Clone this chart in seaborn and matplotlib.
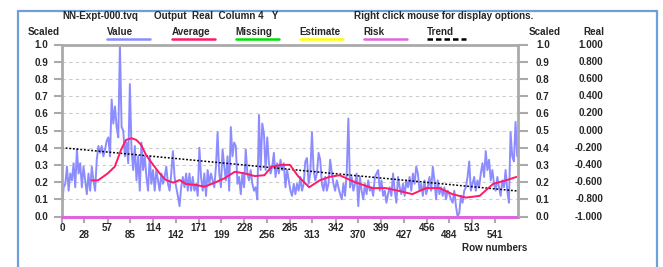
import numpy as np
import pandas as pd
import matplotlib
matplotlib.use("Agg")
import matplotlib.pyplot as plt
import matplotlib.transforms as mtransforms
from matplotlib.lines import Line2D
import seaborn as sns

# values (scaled 0..1), spread evenly over rows 0..569
value = [
    0.06, 0.17, 0.19, 0.29, 0.15, 0.25, 0.21, 0.31, 0.17, 0.39,
    0.25, 0.31, 0.17, 0.29, 0.21, 0.13, 0.25, 0.15, 0.29, 0.21,
    0.15, 0.33, 0.41, 0.37, 0.41, 0.35, 0.39, 0.44, 0.46, 0.35,
    0.68, 0.54, 0.64, 0.52, 0.46, 1.00, 0.52, 0.50, 0.35, 0.43,
    0.31, 0.77,
    0.39, 0.27, 0.41, 0.21, 0.35, 0.15, 0.43, 0.27, 0.35, 0.23,
    0.15, 0.35, 0.19, 0.27, 0.15, 0.27, 0.21, 0.15, 0.25, 0.19,
    0.23, 0.29, 0.19, 0.15, 0.25, 0.38, 0.23, 0.17, 0.12, 0.06,
    0.17, 0.23, 0.17, 0.25, 0.15, 0.25, 0.15, 0.23, 0.15, 0.19,
    0.12, 0.40, 0.23, 0.15, 0.25, 0.12, 0.27, 0.19,
    0.25, 0.21, 0.17, 0.29, 0.49, 0.25, 0.17, 0.39, 0.29, 0.21,
    0.35, 0.15, 0.52, 0.35, 0.43, 0.41, 0.19, 0.23, 0.13, 0.25,
    0.17, 0.39, 0.25, 0.21, 0.27, 0.19, 0.15, 0.17, 0.10, 0.59,
    0.27, 0.54, 0.48, 0.27, 0.46, 0.31, 0.25, 0.29, 0.37, 0.23,
    0.31, 0.25, 0.33, 0.27,
    0.31, 0.17, 0.27, 0.21, 0.15, 0.12, 0.19, 0.13, 0.19, 0.15,
    0.23, 0.15, 0.19, 0.32, 0.34, 0.19, 0.25, 0.49, 0.27, 0.21,
    0.25, 0.37, 0.33, 0.19, 0.15, 0.23, 0.15, 0.19, 0.33, 0.25,
    0.19, 0.15, 0.21, 0.17, 0.13, 0.10, 0.19, 0.12, 0.25, 0.57,
    0.17, 0.23, 0.15, 0.19, 0.25, 0.06, 0.23,
    0.15, 0.10, 0.19, 0.13, 0.21, 0.15, 0.17, 0.12, 0.23, 0.25,
    0.27, 0.15, 0.21, 0.12, 0.15, 0.08, 0.13, 0.17, 0.12, 0.25,
    0.15, 0.08, 0.23, 0.17, 0.13, 0.19, 0.12, 0.21, 0.17, 0.23,
    0.15, 0.25, 0.19, 0.29, 0.25, 0.15, 0.19, 0.12, 0.21, 0.13,
    0.17, 0.23, 0.15, 0.29, 0.21,
    0.10, 0.21, 0.13, 0.17, 0.12, 0.17, 0.10, 0.15, 0.13, 0.10,
    0.08, 0.15, 0.06, 0.00, 0.02, 0.12, 0.08, 0.15, 0.17, 0.23,
    0.32, 0.15, 0.19, 0.23, 0.15, 0.21, 0.17, 0.25, 0.31, 0.23,
    0.38, 0.27, 0.33, 0.21, 0.27, 0.19, 0.15, 0.23, 0.17, 0.12,
    0.21, 0.17, 0.27, 0.15, 0.08, 0.49, 0.35, 0.32, 0.55, 0.35,
]
first_row = 0
last_row = 569

avg_rows = [37, 45, 57, 66, 74, 80, 87, 93, 99, 105, 114, 122, 130, 139, 147,
            155, 168, 178, 191, 203, 216, 228, 241, 253, 262, 274, 285, 295,
            309, 322, 334, 347, 366, 388, 405, 420, 438, 455, 472, 488, 505,
            522, 539, 555, 568]
avg_values = [0.21, 0.21, 0.25, 0.29, 0.39, 0.445, 0.455, 0.445, 0.416, 0.358,
              0.30, 0.251, 0.212, 0.197, 0.212, 0.189, 0.183, 0.173, 0.197,
              0.222, 0.26, 0.251, 0.235, 0.24, 0.29, 0.30, 0.30, 0.235, 0.17,
              0.21, 0.23, 0.24, 0.20, 0.165, 0.165, 0.15, 0.13, 0.165, 0.165,
              0.13, 0.11, 0.12, 0.19, 0.21, 0.23]

trend_rows = [0, 570]
trend_values = [0.40, 0.148]

risk_rows = [0, 570]
risk_values = [0.0, 0.0]

x_ticks = [0, 28, 57, 85, 114, 142, 171, 199, 228, 256, 285, 313, 342, 370,
           399, 427, 456, 484, 513, 541]
y_ticks = [0.0, 0.1, 0.2, 0.3, 0.4, 0.5, 0.6, 0.7, 0.8, 0.9, 1.0]
real_ticks = [-1.0, -0.8, -0.6, -0.4, -0.2, 0.0, 0.2, 0.4, 0.6, 0.8, 1.0]

legend_names = ["Value", "Average", "Missing", "Estimate", "Risk", "Trend"]
legend_colors = ["#8c8cff", "#ff1a66", "#00e000", "#ffff00", "#dd66dd", "black"]

sns.set_style("white")
plt.rcParams['font.family'] = ['Liberation Sans', 'DejaVu Sans']
plt.rcParams['font.weight'] = 'bold'
FS = 7.1
GREY = "#aaaaaa"

W, H = 663, 267
fig = plt.figure(figsize=(W / 100, H / 100), dpi=100)


def fx(px):
    return px / W


def fy(py):
    return 1 - py / H


ax = fig.add_axes([fx(62), fy(216.5), fx(518 - 62), (216.5 - 44.5) / H])

df_val = pd.DataFrame({"row": np.linspace(first_row, last_row, len(value)), "v": value})
df_avg = pd.DataFrame({"row": avg_rows, "v": avg_values})
df_trend = pd.DataFrame({"row": trend_rows, "v": trend_values})
df_risk = pd.DataFrame({"row": risk_rows, "v": risk_values})

sns.lineplot(data=df_val, x="row", y="v", color=legend_colors[0], lw=1.4, ax=ax)
sns.lineplot(data=df_trend, x="row", y="v", color="black", lw=1.1,
             linestyle=(0, (1.2, 1.2)), ax=ax)
sns.lineplot(data=df_avg, x="row", y="v", color=legend_colors[1], lw=1.4, ax=ax)
sns.lineplot(data=df_risk, x="row", y="v", color=legend_colors[4], lw=2.2,
             ax=ax, clip_on=False, zorder=5)

ax.set_xlim(0, 570)
ax.set_ylim(0, 1.0)
ax.set_xlabel("")
ax.set_ylabel("")

for y in y_ticks[1:-1]:
    ax.axhline(y, color="#cccccc", lw=0.8, linestyle=(0, (3, 3)), zorder=0)

for side in ["left", "right", "top", "bottom"]:
    ax.spines[side].set_color(GREY)
    ax.spines[side].set_linewidth(2)

ax.set_yticks(y_ticks)
ax.set_yticklabels([f"{v:.1f}" for v in y_ticks], fontsize=FS, fontweight="bold")
ax.tick_params(axis="y", left=True, right=False, length=6, width=1.5,
               color=GREY, pad=4.0, direction="out")

ax.set_xticks(x_ticks[0::2])
ax.set_xticklabels([str(t) for t in x_ticks[0::2]], fontsize=FS, fontweight="bold")
ax.set_xticks(x_ticks[1::2], minor=True)
ax.set_xticklabels([str(t) for t in x_ticks[1::2]], minor=True, fontsize=FS,
                   fontweight="bold")
ax.tick_params(axis="x", which="both", bottom=True, length=4.3, width=1.5,
               color=GREY, direction="out")
ax.tick_params(axis="x", which="major", pad=0.6)
ax.tick_params(axis="x", which="minor", pad=5.4)

ax2 = ax.twinx()
ax2.set_ylim(0, 1.0)
ax2.set_yticks(y_ticks)
ax2.set_yticklabels([f"{v:.1f}" for v in y_ticks], fontsize=FS, fontweight="bold")
ax2.tick_params(axis="y", right=True, length=7, width=1.5, color=GREY, pad=6.0)
for side in ["left", "right", "top", "bottom"]:
    ax2.spines[side].set_visible(False)
ax2.grid(False)

blend = mtransforms.blended_transform_factory(fig.transFigure, ax.transData)
for s, r in zip(y_ticks, real_ticks):
    ax.text(fx(603), s, f"{r:.3f}", transform=blend, ha="right", va="center",
            fontsize=FS, fontweight="bold")

fig.text(fx(100), fy(15.7), "NN-Expt-000.tvq", ha="center", va="center",
         fontsize=FS, fontweight="bold")
fig.text(fx(154), fy(15.7), "Output  Real  Column 4   Y", ha="left", va="center",
         fontsize=FS, fontweight="bold")
fig.text(fx(354), fy(15.7), "Right click mouse for display options.", ha="left",
         va="center", fontsize=FS, fontweight="bold")

fig.text(fx(28), fy(31.7), "Scaled", ha="left", va="center", fontsize=FS, fontweight="bold")
fig.text(fx(529), fy(31.7), "Scaled", ha="left", va="center", fontsize=FS, fontweight="bold")
fig.text(fx(583), fy(31.7), "Real", ha="left", va="center", fontsize=FS, fontweight="bold")

legend_x = [107, 171.5, 235.5, 299.5, 363.5, 427]
for name, col, lx in zip(legend_names, legend_colors, legend_x):
    fig.text(fx(lx), fy(31.7), name, ha="left", va="center", fontsize=FS,
             fontweight="bold")
    if name == "Trend":
        fig.add_artist(Line2D([fx(lx), fx(lx + 39)], [fy(39), fy(39)], color=col,
                              lw=1.8, linestyle=(0, (2.2, 1.2))))
    else:
        fig.add_artist(Line2D([fx(lx), fx(lx + 43)], [fy(39), fy(39)], color=col,
                              lw=1.8))

fig.text(fx(527), fy(248), "Row numbers", ha="right", va="center", fontsize=FS,
         fontweight="bold")

# outer window border
border = "#6f9fd8"
fig.add_artist(Line2D([fx(17.5), fx(17.5)], [fy(11), 0], color=border, lw=1.6))
fig.add_artist(Line2D([fx(17.5), fx(657)], [fy(11), fy(11)], color=border, lw=1.6))
fig.add_artist(Line2D([fx(657), fx(657)], [fy(11), 0], color=border, lw=1.6))

fig.savefig("out.png", dpi=100)
